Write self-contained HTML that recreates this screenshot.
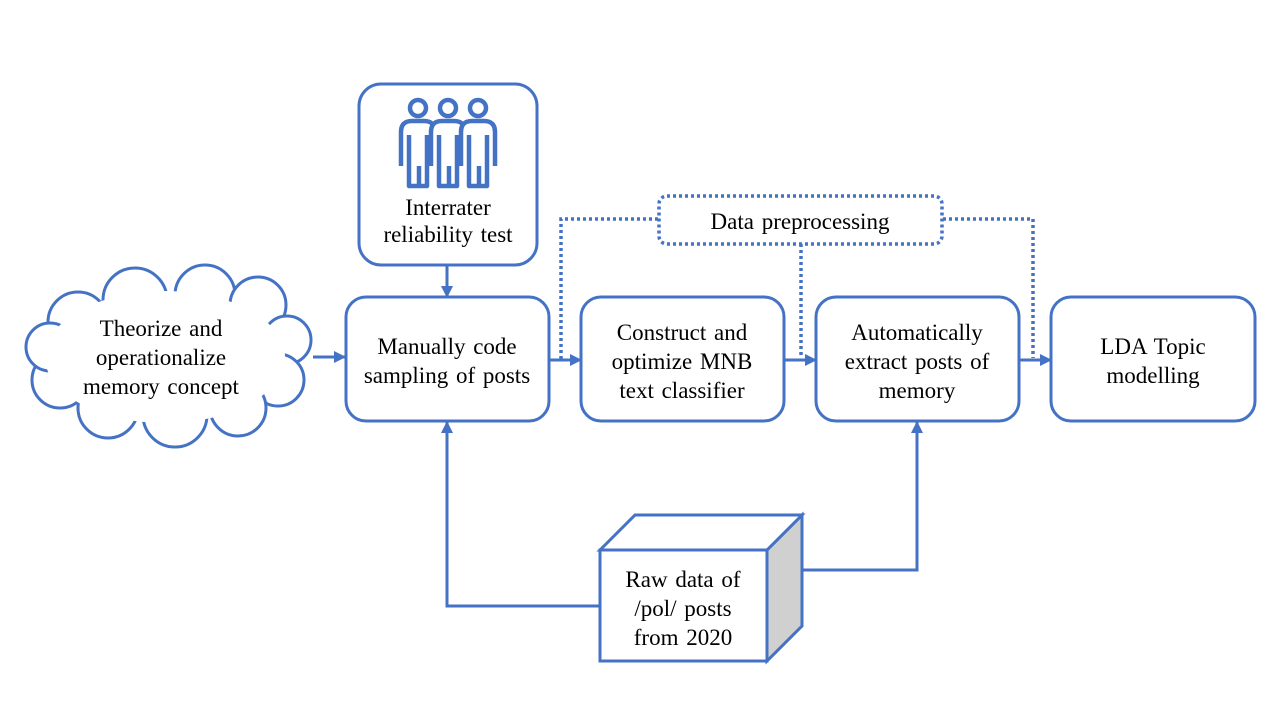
<!DOCTYPE html>
<html><head><meta charset="utf-8"><style>
html,body{margin:0;padding:0;background:#fff;}
svg{display:block;}
text{font-family:"Liberation Serif",serif;font-size:23px;fill:#000;text-anchor:middle;word-spacing:2px;}
</style></head><body>
<svg width="1280" height="720" viewBox="0 0 1280 720" xmlns="http://www.w3.org/2000/svg">
<defs>
<marker id="ar" markerWidth="12" markerHeight="12" refX="11" refY="6" orient="auto" markerUnits="userSpaceOnUse">
<path d="M0,0 L12,6 L0,12 z" fill="#4472C4"/>
</marker>
</defs>
<g stroke="#4472C4" stroke-width="3" fill="none">
<!-- cloud -->
<g fill="#fff">
<circle cx="78" cy="322" r="30"/>
<circle cx="135" cy="300" r="32"/>
<circle cx="205" cy="295" r="30"/>
<circle cx="258" cy="305" r="28"/>
<circle cx="287" cy="340" r="24"/>
<circle cx="278" cy="380" r="26"/>
<circle cx="238" cy="408" r="28"/>
<circle cx="175" cy="415" r="32"/>
<circle cx="108" cy="408" r="30"/>
<circle cx="60" cy="380" r="28"/>
<circle cx="50" cy="347" r="24"/>
</g>
<ellipse cx="165" cy="357" rx="120" ry="66" fill="#fff" stroke="none"/>

<!-- boxes -->
<rect x="359" y="84" width="178" height="181" rx="22" fill="#fff"/>
<rect x="346" y="297" width="203" height="124" rx="20" fill="#fff"/>
<rect x="581" y="297" width="203" height="124" rx="20" fill="#fff"/>
<rect x="816" y="297" width="203" height="124" rx="20" fill="#fff"/>
<rect x="1051" y="297" width="204" height="124" rx="20" fill="#fff"/>

<!-- arrows solid -->
<line x1="313" y1="357" x2="345" y2="357" marker-end="url(#ar)"/>
<line x1="447" y1="265" x2="447" y2="297" marker-end="url(#ar)"/>
<line x1="549" y1="360" x2="581" y2="360" marker-end="url(#ar)"/>
<line x1="784" y1="360" x2="816" y2="360" marker-end="url(#ar)"/>
<line x1="1019" y1="360" x2="1051" y2="360" marker-end="url(#ar)"/>
<polyline points="600,606 447,606 447,422" marker-end="url(#ar)"/>
<polyline points="803,570 917,570 917,422" marker-end="url(#ar)"/>

<!-- dotted -->
<g stroke-dasharray="3,3" stroke-width="3.5">
<rect x="659" y="196" width="283" height="48" rx="8" fill="#fff"/>
<polyline points="658,219 561,219 561,360"/>
<line x1="801" y1="244" x2="801" y2="358"/>
<polyline points="943,219 1033,219 1033,358"/>
</g>

<!-- cube -->
<polygon points="767,550 802,515 802,626 767,661" fill="#D0D0D0"/>
<polygon points="600,550 635,515 802,515 767,550" fill="#fff"/>
<rect x="600" y="550" width="167" height="111" fill="#fff"/>

<!-- people -->
<g stroke-width="4.5" stroke-linejoin="round">
<g>
<circle cx="418" cy="108" r="8" fill="#fff"/>
<path d="M401,166 V132 Q401,121 412,121 H424 Q435,121 435,132 V166" fill="#fff"/>
<path d="M409,135 V186 H427 V135 M419,166 V186" fill="none"/>
</g>
<g>
<circle cx="448" cy="108" r="8" fill="#fff"/>
<path d="M431,166 V132 Q431,121 442,121 H454 Q465,121 465,132 V166" fill="#fff"/>
<path d="M439,135 V186 H457 V135 M449,166 V186" fill="none"/>
</g>
<g>
<circle cx="478" cy="108" r="8" fill="#fff"/>
<path d="M461,166 V132 Q461,121 472,121 H484 Q495,121 495,132 V166" fill="#fff"/>
<path d="M469,135 V186 H487 V135 M479,166 V186" fill="none"/>
</g>
</g>
</g>

<text x="161" y="336">Theorize and</text>
<text x="161" y="365">operationalize</text>
<text x="161" y="394">memory concept</text>

<text x="448" y="215">Interrater</text>
<text x="448" y="242">reliability test</text>

<text x="447" y="354">Manually code</text>
<text x="447" y="383">sampling of posts</text>

<text x="682" y="340">Construct and</text>
<text x="682" y="369">optimize MNB</text>
<text x="682" y="398">text classifier</text>

<text x="917" y="340">Automatically</text>
<text x="917" y="369">extract posts of</text>
<text x="917" y="398">memory</text>

<text x="1153" y="354">LDA Topic</text>
<text x="1153" y="383">modelling</text>

<text x="800" y="229">Data preprocessing</text>

<text x="683" y="587">Raw data of</text>
<text x="683" y="616">/pol/ posts</text>
<text x="683" y="645">from 2020</text>
</svg>
</body></html>
